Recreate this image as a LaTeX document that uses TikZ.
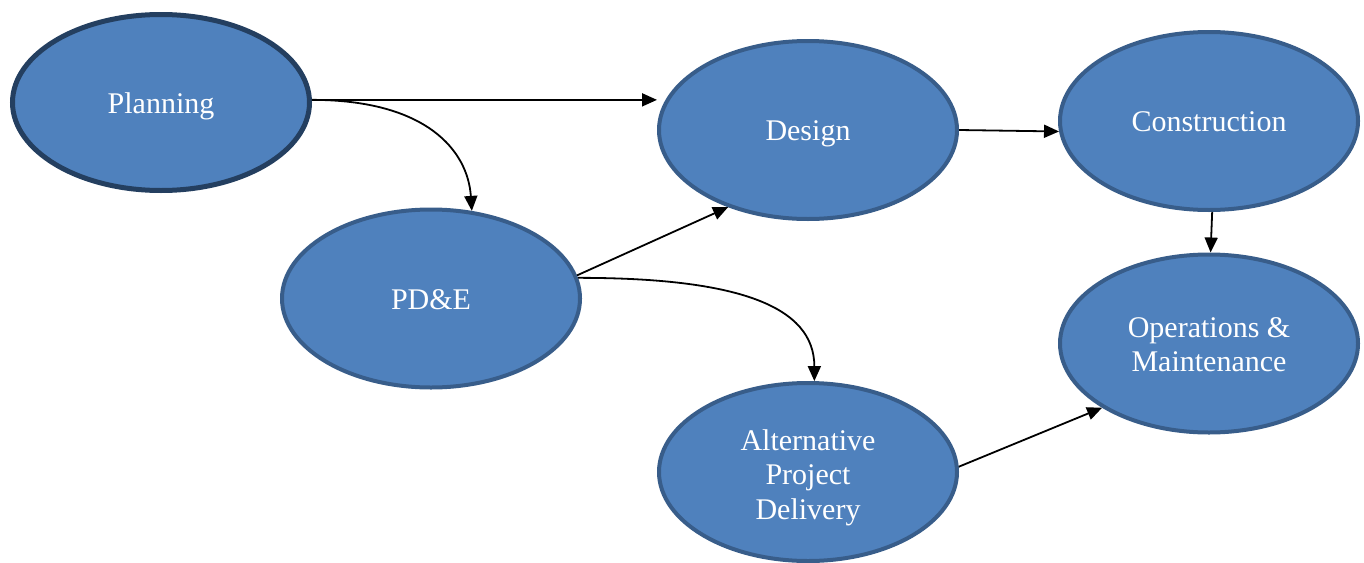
\documentclass[tikz,border=0pt]{standalone}
\usepackage{fontspec}
\setmainfont{Liberation Serif}
\usetikzlibrary{shapes.geometric,arrows.meta}
\definecolor{stagefill}{HTML}{4F81BD}
\definecolor{stageedge}{HTML}{385D8A}
\definecolor{leadedge}{HTML}{243F60}
% stage label: centred lines, lowered (box size kept) so the capitals sit on the ellipse centre
\newcommand{\stagelabel}[2][-4pt]{\raisebox{#1}[\height][\depth]{\begin{tabular}{@{}c@{}}#2\end{tabular}}}
\tikzset{
  stage/.style={ellipse, fill=stagefill, draw=stageedge, line width=4pt,
    minimum width=298pt, minimum height=178pt, inner sep=0pt,
    text=white, font=\fontsize{30}{34.5}\selectfont},
  leadstage/.style={stage, draw=leadedge, line width=5pt,
    minimum width=297pt, minimum height=176pt},
  flow/.style={-{Triangle[length=15pt,width=13pt]}, line width=1.8pt, black}
}
\begin{document}
\begin{tikzpicture}[x=1pt,y=-1pt]
\useasboundingbox (0,0) rectangle (1364,562);

% process stages
\node[leadstage] (plan) at (161,102.5) {\stagelabel{Planning}};
\node[stage] (pde)  at (431,298.5) {\stagelabel{PD\&E}};
\node[stage] (des)  at (808,130)   {\stagelabel{Design}};
\node[stage] (con)  at (1209,121)  {\stagelabel{Construction}};
\node[stage] (om)   at (1209,343.5) {\stagelabel{Operations \&\\Maintenance}};
\node[stage] (apd)  at (808,472)   {\stagelabel[-6pt]{Alternative\\Project\\Delivery}};

% connections between stages
\draw[flow] (plan.1) -- (plan.1 -| des.west);
\draw[flow] (plan.1) .. controls +(115,0) and +(-4,-60) .. (pde.65);
\draw[flow] (pde.9) -- (des.224);
\draw[flow] (pde.8) .. controls +(160,0) and +(0,-75) .. (apd.86);
\draw[flow] (des.east) -- (con.184);
\draw[flow] (con.272) -- (om.89);
\draw[flow] (apd.2) -- (om.211);
\end{tikzpicture}
\end{document}
